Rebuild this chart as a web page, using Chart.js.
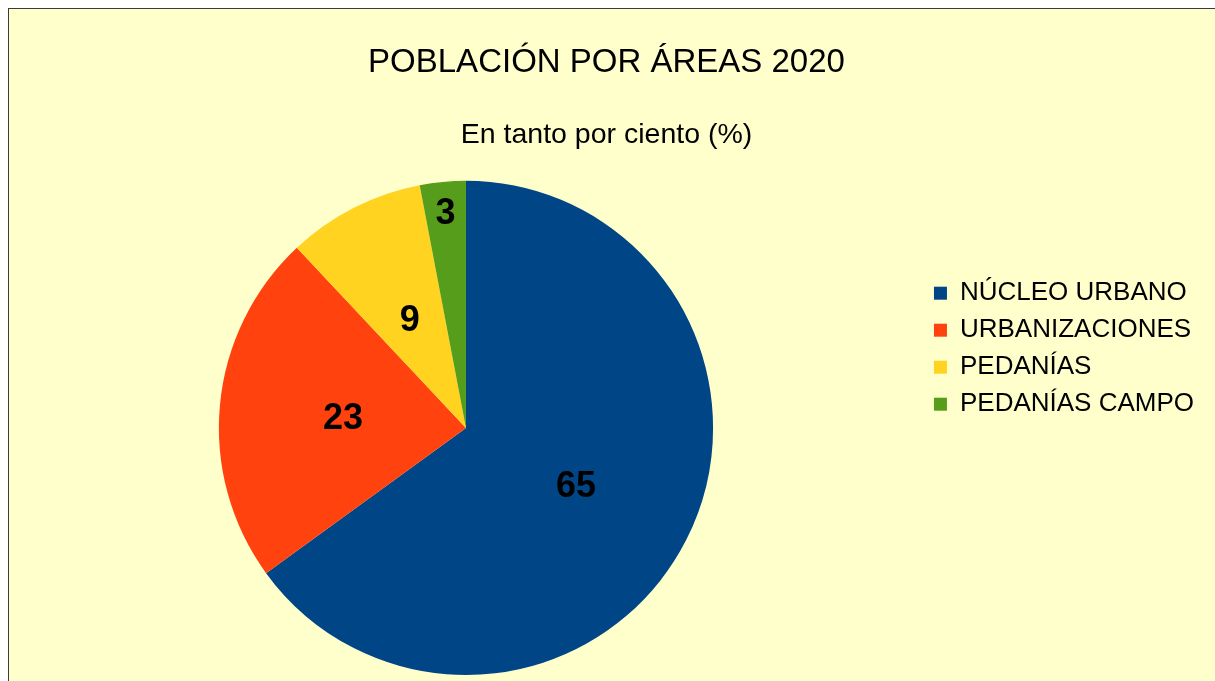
<!DOCTYPE html>
<html>
<head>
<meta charset="utf-8">
<script src="https://cdn.jsdelivr.net/npm/chart.js@4/dist/chart.umd.min.js"></script>
<style>
  html, body { margin: 0; padding: 0; background: #fff; overflow: hidden; }
  #frame {
    position: absolute; left: 8px; top: 8px;
    width: 1206px; height: 680px;
    background: #ffffcc;
    border-left: 1px solid #3a3a3a; border-top: 1px solid #3a3a3a;
  }
</style>
</head>
<body>
<div id="frame"><canvas id="myChart"></canvas></div>
<script>
const areas = ["NÚCLEO URBANO", "URBANIZACIONES", "PEDANÍAS", "PEDANÍAS CAMPO"];
const percent = [65, 23, 9, 3];
const colors = ["#004586", "#ff420e", "#ffd320", "#579d1c"];
// where each value label sits, as a fraction of the radius
const labelRadius = [0.5, 0.5, 0.5, 0.88];

Chart.defaults.font.family = "'Liberation Sans', Arial, sans-serif";
Chart.defaults.color = "#000";

const valueLabels = {
  id: "valueLabels",
  afterDatasetsDraw(chart) {
    const c = chart.ctx;
    const meta = chart.getDatasetMeta(0);
    c.save();
    c.font = "bold 36px 'Liberation Sans', Arial, sans-serif";
    c.fillStyle = "#000";
    c.textAlign = "center";
    c.textBaseline = "middle";
    meta.data.forEach((arc, i) => {
      const p = arc.getProps(["x", "y", "startAngle", "endAngle", "outerRadius"], true);
      const a = (p.startAngle + p.endAngle) / 2;
      const r = p.outerRadius * labelRadius[i];
      // +3: middle baseline sits a bit high for digits
      c.fillText(String(percent[i]), p.x + Math.cos(a) * r, p.y + Math.sin(a) * r + 3);
    });
    c.restore();
  }
};

const ctx = document.getElementById("myChart").getContext("2d");
const myChart = new Chart(ctx, {
  type: "pie",
  data: {
    labels: areas,
    datasets: [{
      data: percent,
      backgroundColor: colors,
      borderWidth: 0
    }]
  },
  options: {
    responsive: true,
    maintainAspectRatio: false,
    animation: false,
    layout: { padding: { left: 0, right: 11, top: 0, bottom: 14 } },
    plugins: {
      title: {
        display: true,
        text: "POBLACIÓN POR ÁREAS 2020",
        font: { size: 33, weight: "normal" },
        padding: { top: 34, bottom: 20 }
      },
      subtitle: {
        display: true,
        text: "En tanto por ciento (%)",
        font: { size: 28.5 },
        padding: { top: 15, bottom: 29 }
      },
      legend: {
        position: "right",
        align: "start",
        title: { display: true, text: " ", font: { size: 1 }, padding: { top: 259, bottom: 0 } },
        labels: {
          boxWidth: 13,
          boxHeight: 13,
          padding: 11,
          font: { size: 26 }
        }
      },
      tooltip: { enabled: false }
    }
  },
  plugins: [valueLabels]
});
</script>
</body>
</html>
